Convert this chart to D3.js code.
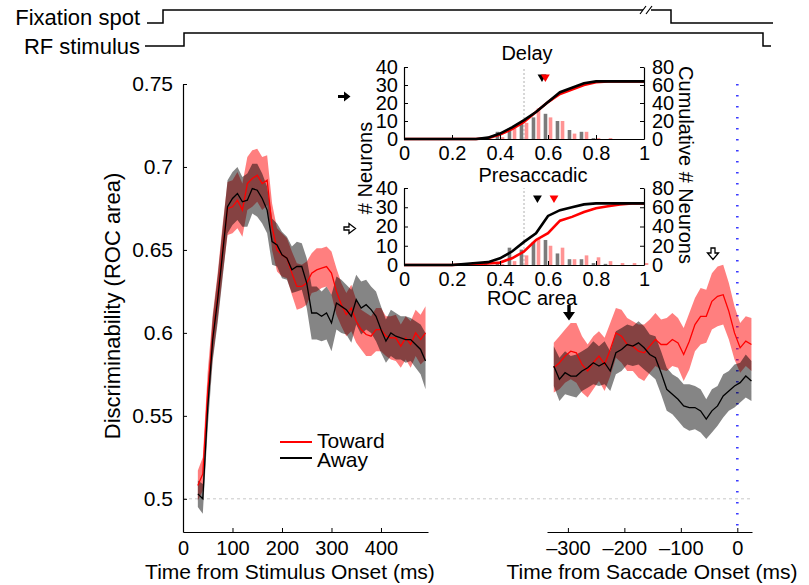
<!DOCTYPE html>
<html><head><meta charset="utf-8">
<script src="https://cdn.jsdelivr.net/npm/d3@7"></script>
<style>
body{margin:0;background:#fff}
svg{display:block}
text{font-family:"Liberation Sans",Arial,Helvetica,sans-serif;fill:#000}
</style>
</head><body>
<svg id="c" width="809" height="585"></svg>
<script>
// ---------------- DATA ----------------
const timeStim = [30,40,50,60,70,80,90,100,110,120,130,140,150,160,170,180,190,200,210,220,230,240,250,260,270,280,290,300,310,320,330,340,350,360,370,380,390,400,410,420,430,440,450,460,470,480,490];
const towardStim = [0.508,0.515,0.565,0.598,0.622,0.650,0.675,0.676,0.680,0.674,0.690,0.693,0.695,0.690,0.692,0.664,0.650,0.647,0.645,0.636,0.628,0.628,0.630,0.636,0.638,0.639,0.640,0.636,0.625,0.617,0.611,0.615,0.607,0.602,0.599,0.598,0.602,0.602,0.598,0.597,0.597,0.592,0.597,0.593,0.600,0.596,0.600];
const awayStim = [0.503,0.500,0.555,0.596,0.620,0.648,0.676,0.681,0.684,0.679,0.680,0.687,0.686,0.681,0.674,0.655,0.653,0.647,0.645,0.638,0.640,0.640,0.630,0.612,0.612,0.610,0.612,0.606,0.618,0.616,0.614,0.610,0.620,0.615,0.617,0.614,0.610,0.602,0.595,0.600,0.598,0.597,0.596,0.596,0.593,0.590,0.583];
const semTowardStim = [0.009,0.010,0.012,0.013,0.014,0.015,0.016,0.016,0.017,0.016,0.016,0.017,0.016,0.016,0.015,0.014,0.013,0.013,0.012,0.013,0.014,0.013,0.013,0.012,0.013,0.012,0.012,0.013,0.014,0.013,0.013,0.014,0.013,0.012,0.013,0.012,0.013,0.013,0.012,0.013,0.014,0.013,0.013,0.014,0.014,0.015,0.016];
const semAwayStim = [0.008,0.009,0.012,0.013,0.014,0.015,0.016,0.016,0.016,0.015,0.016,0.015,0.016,0.015,0.014,0.014,0.013,0.014,0.013,0.014,0.015,0.014,0.015,0.016,0.016,0.015,0.016,0.017,0.016,0.016,0.015,0.016,0.015,0.016,0.015,0.014,0.015,0.014,0.013,0.014,0.014,0.013,0.014,0.013,0.014,0.015,0.017];

const timeSac = [-325,-315,-305,-295,-285,-275,-265,-255,-245,-235,-225,-215,-205,-195,-185,-175,-165,-155,-145,-135,-125,-115,-105,-95,-85,-75,-65,-55,-45,-35,-25,-15,-5,5,15,25];
const towardSac = [0.579,0.582,0.586,0.589,0.588,0.581,0.577,0.582,0.586,0.581,0.590,0.600,0.598,0.593,0.592,0.589,0.588,0.592,0.596,0.593,0.593,0.596,0.594,0.587,0.595,0.605,0.610,0.610,0.619,0.622,0.623,0.613,0.600,0.591,0.595,0.593];
const awaySac = [0.580,0.572,0.576,0.574,0.574,0.577,0.579,0.582,0.580,0.582,0.577,0.588,0.590,0.593,0.592,0.594,0.591,0.587,0.585,0.576,0.566,0.563,0.560,0.556,0.555,0.555,0.553,0.548,0.553,0.556,0.562,0.565,0.568,0.570,0.574,0.571];
const semTowardSac = [0.015,0.016,0.016,0.017,0.018,0.017,0.016,0.016,0.015,0.016,0.016,0.015,0.016,0.016,0.015,0.016,0.017,0.016,0.016,0.015,0.016,0.016,0.015,0.016,0.017,0.016,0.017,0.016,0.017,0.018,0.018,0.017,0.016,0.015,0.015,0.016];
const semAwaySac = [0.012,0.013,0.013,0.012,0.013,0.012,0.012,0.013,0.012,0.013,0.012,0.013,0.013,0.012,0.012,0.013,0.013,0.012,0.013,0.013,0.013,0.012,0.013,0.013,0.014,0.013,0.013,0.012,0.013,0.012,0.013,0.012,0.013,0.012,0.013,0.012];

const yTicks = [0.5,0.55,0.6,0.65,0.7,0.75];
const stimTicks = [0,100,200,300,400];
const sacTicks = [-300,-200,-100,0];
const legendLabels = ["Toward","Away"];

// insets
const rocTicks = [0,0.2,0.4,0.6,0.8,1];
const countTicks = [0,10,20,30,40];
const cumTicks = [0,20,40,60,80];
const binCenters = [0.3,0.35,0.4,0.45,0.5,0.55,0.6,0.65,0.7,0.75,0.8,0.85,0.9,0.95,1.0];
const delayHistAway   = [0,0,4,6,9,12,14,10,5,4,0.5,0,0,0,0];
const delayHistToward = [0,0,1,6,9,17,12,10,3,4,0.5,0.5,0,0,0];
const presHistAway    = [1,1,1,9,8,12,13,6,3,3,1,0.6,0,0,0];
const presHistToward  = [0,0,0.5,2,5,14,10,9,3,5,4,2,1,1,1];
const cumX = [0,0.2,0.25,0.3,0.35,0.4,0.45,0.5,0.55,0.6,0.65,0.7,0.75,0.8,0.85,0.9,0.95,1.0];
const delayCumAway   = [0,0,0,0,1.5,6,13,21,30,41,52,57,62,64,64,64,64,64];
const delayCumToward = [0,0,0,0,1,5,11,19,30,41,50,55,60,63,64,64,64,64];
const presCumAway    = [0,0,1,2,3,7,14,24,33,51,57,60,63,64,64,64,64,64];
const presCumToward  = [0,0,0.5,1,1.5,2.5,7,14,26,33,46,50,55,59,61,63,64,64];
const delayMedian = {away:0.575, toward:0.589};
const presMedian  = {away:0.556, toward:0.625};

// ---------------- DRAW ----------------
const svg = d3.select('#c');
const RED = '#ff0000';

// timing diagram
const tg = svg.append('g').attr('fill','none').attr('stroke','#000').attr('stroke-width',1.5);
tg.append('path').attr('d','M147,23 H163 V10 H643');
tg.append('path').attr('d','M651,10 H671 V23 H773');
tg.append('path').attr('d','M640,14 L646,6 M646,14 L652,6').attr('stroke-width',1.2);
tg.append('path').attr('d','M145,46 H184 V33 H763 V46 H771');
svg.append('text').attr('x',140).attr('y',25).attr('text-anchor','end').style('font-size','22px').text('Fixation spot');
svg.append('text').attr('x',140).attr('y',54).attr('text-anchor','end').style('font-size','22px').text('RF stimulus');

// main scales
const y = d3.scaleLinear().domain([0.48,0.75]).range([532,84]);
const xStim = d3.scaleLinear().domain([0,495]).range([183,428]);
const xSac = d3.scaleLinear().domain([-337,26]).range([547,752]);

// reference lines
svg.append('line').attr('x1',183).attr('x2',752).attr('y1',y(0.5)).attr('y2',y(0.5))
  .attr('stroke','#c8c8c8').attr('stroke-dasharray','3,3').attr('stroke-width',1);
svg.append('line').attr('x1',xSac(0)).attr('x2',xSac(0)).attr('y1',y(0.75)).attr('y2',532)
  .attr('stroke','#3a3aff').attr('stroke-dasharray','1.6,9.4').attr('stroke-width',2.6);

function drawPanel(x, times, tw, aw, semT, semA){
  const g = svg.append('g');
  const idx = d3.range(times.length);
  const area = (m,s) => d3.area().x(i=>x(times[i])).y0(i=>y(m[i]-s[i])).y1(i=>y(m[i]+s[i]));
  const line = m => d3.line().x(i=>x(times[i])).y(i=>y(m[i]));
  g.append('path').attr('d',area(tw,semT)(idx)).attr('fill',RED).attr('fill-opacity',0.5);
  g.append('path').attr('d',area(aw,semA)(idx)).attr('fill','#000').attr('fill-opacity',0.48);
  g.append('path').attr('d',line(tw)(idx)).attr('fill','none').attr('stroke',RED).attr('stroke-width',1.3);
  g.append('path').attr('d',line(aw)(idx)).attr('fill','none').attr('stroke','#000').attr('stroke-width',1.3);
}
drawPanel(xStim, timeStim, towardStim, awayStim, semTowardStim, semAwayStim);
drawPanel(xSac, timeSac, towardSac, awaySac, semTowardSac, semAwaySac);

function styleAxis(g, fs){
  g.selectAll('path.domain').attr('stroke','#000').attr('stroke-width',1.2);
  g.selectAll('.tick line').attr('stroke','#000');
  g.selectAll('text').style('font-size',fs+'px').attr('font-family',null);
}
// y axis
const ya = svg.append('g').attr('transform','translate(183,0)')
  .call(d3.axisLeft(y).tickValues(yTicks).tickSizeInner(-4).tickSizeOuter(0).tickPadding(10).tickFormat(d=>String(+d.toFixed(2))));
styleAxis(ya,21);
// x axes
const xa1 = svg.append('g').attr('transform','translate(0,532)')
  .call(d3.axisBottom(xStim).tickValues(stimTicks).tickSizeInner(-4).tickSizeOuter(0).tickPadding(9));
styleAxis(xa1,20);
const xa2 = svg.append('g').attr('transform','translate(0,532)')
  .call(d3.axisBottom(xSac).tickValues(sacTicks).tickSizeInner(-4).tickSizeOuter(0).tickPadding(9)
        .tickFormat(d => d < 0 ? '\u2013' + Math.abs(d) : String(d)));
styleAxis(xa2,20);

svg.append('text').attr('x',290).attr('y',579).attr('text-anchor','middle').style('font-size','21px').text('Time from Stimulus Onset (ms)');
svg.append('text').attr('x',652).attr('y',579).attr('text-anchor','middle').style('font-size','21px').text('Time from Saccade Onset (ms)');
svg.append('text').attr('transform','translate(112,306) rotate(-90)').attr('dy','0.35em').attr('text-anchor','middle').style('font-size','22px').text('Discriminability (ROC area)');

// legend
[[RED,442,448],['#000',458,467]].forEach((d,i)=>{
  svg.append('line').attr('x1',280).attr('x2',312).attr('y1',d[1]).attr('y2',d[1]).attr('stroke',d[0]).attr('stroke-width',2);
  svg.append('text').attr('x',317).attr('y',d[2]).style('font-size','21px').text(legendLabels[i]);
});

// arrows in main plot
svg.append('path').attr('d','M567.3,305 h3.4 v7 h4.3 l-6,8.5 l-6,-8.5 h4.3 z').attr('fill','#000');
svg.append('path').attr('d','M711,248 h4 v5 h3.5 l-5.5,6.5 l-5.5,-6.5 h3.5 z').attr('fill','#fff').attr('stroke','#000').attr('stroke-width',1.3);

// insets
const xIn = d3.scaleLinear().domain([0,1]).range([404,644]);
function drawInset(top, bottom, title, titleX, titleY, hA, hT, cA, cT, med){
  const yL = d3.scaleLinear().domain([0,40]).range([bottom,top]);
  const yR = d3.scaleLinear().domain([0,80]).range([bottom,top]);
  const g = svg.append('g');
  g.append('line').attr('x1',xIn(0.5)).attr('x2',xIn(0.5)).attr('y1',bottom).attr('y2',top)
    .attr('stroke','#b0b0b0').attr('stroke-dasharray','2,2');
  const bw = 3.6;
  g.selectAll('rect.a').data(binCenters).enter().append('rect')
    .attr('x',(d)=>xIn(d-0.0105)-bw/2).attr('width',bw)
    .attr('y',(d,i)=>yL(hA[i])).attr('height',(d,i)=>bottom-yL(hA[i])).attr('fill','#7a7a7a');
  g.selectAll('rect.t').data(binCenters).enter().append('rect')
    .attr('x',(d)=>xIn(d+0.0105)-bw/2).attr('width',bw)
    .attr('y',(d,i)=>yL(hT[i])).attr('height',(d,i)=>bottom-yL(hT[i])).attr('fill','#ff9494');
  const ln = arr => d3.line().x((d,i)=>xIn(cumX[i])).y(d=>yR(d))(arr);
  g.append('path').attr('d',ln(cT)).attr('fill','none').attr('stroke',RED).attr('stroke-width',2.6);
  g.append('path').attr('d',ln(cA)).attr('fill','none').attr('stroke','#000').attr('stroke-width',2.6);
  const tri = d3.symbol(d3.symbolTriangle).size(34)();
  g.append('path').attr('d',tri).attr('transform',`translate(${xIn(med.away)},${top+10}) rotate(180)`).attr('fill','#000');
  g.append('path').attr('d',tri).attr('transform',`translate(${xIn(med.toward)},${top+10}) rotate(180)`).attr('fill',RED);
  const la = g.append('g').attr('transform','translate(404,0)')
    .call(d3.axisLeft(yL).tickValues(countTicks).tickSizeInner(-4).tickSizeOuter(0).tickPadding(6));
  styleAxis(la,20);
  const ra = g.append('g').attr('transform','translate(644,0)')
    .call(d3.axisRight(yR).tickValues(cumTicks).tickSizeInner(-4).tickSizeOuter(0).tickPadding(8));
  styleAxis(ra,20);
  const ba = g.append('g').attr('transform',`translate(0,${bottom})`)
    .call(d3.axisBottom(xIn).tickValues(rocTicks).tickSizeInner(-4).tickSizeOuter(0).tickPadding(7).tickFormat(d=>String(d)));
  styleAxis(ba,20);
  g.append('text').attr('x',titleX).attr('y',titleY).attr('text-anchor','middle').style('font-size','20px').text(title);
}
drawInset(67,139,'Delay',527,60,delayHistAway,delayHistToward,delayCumAway,delayCumToward,delayMedian);
drawInset(188,265,'Presaccadic',533,182,presHistAway,presHistToward,presCumAway,presCumToward,presMedian);
svg.append('text').attr('x',532).attr('y',305).attr('text-anchor','middle').style('font-size','20px').text('ROC area');
svg.append('text').attr('transform','translate(365,168) rotate(-90)').attr('dy','0.35em').attr('text-anchor','middle').style('font-size','20px').text('# Neurons');
svg.append('text').attr('transform','translate(686,165) rotate(90)').attr('dy','0.35em').attr('text-anchor','middle').style('font-size','20px').text('Cumulative # Neurons');
// inset arrows
svg.append('path').attr('d','M338,95 h6 v-3.5 l6.5,5 l-6.5,5 v-3.5 h-6 z').attr('fill','#000');
svg.append('path').attr('d','M344,227 h5 v-3.5 l6.5,5 l-6.5,5 v-3.5 h-5 z').attr('fill','#fff').attr('stroke','#000').attr('stroke-width',1.3);
</script>
</body></html>
